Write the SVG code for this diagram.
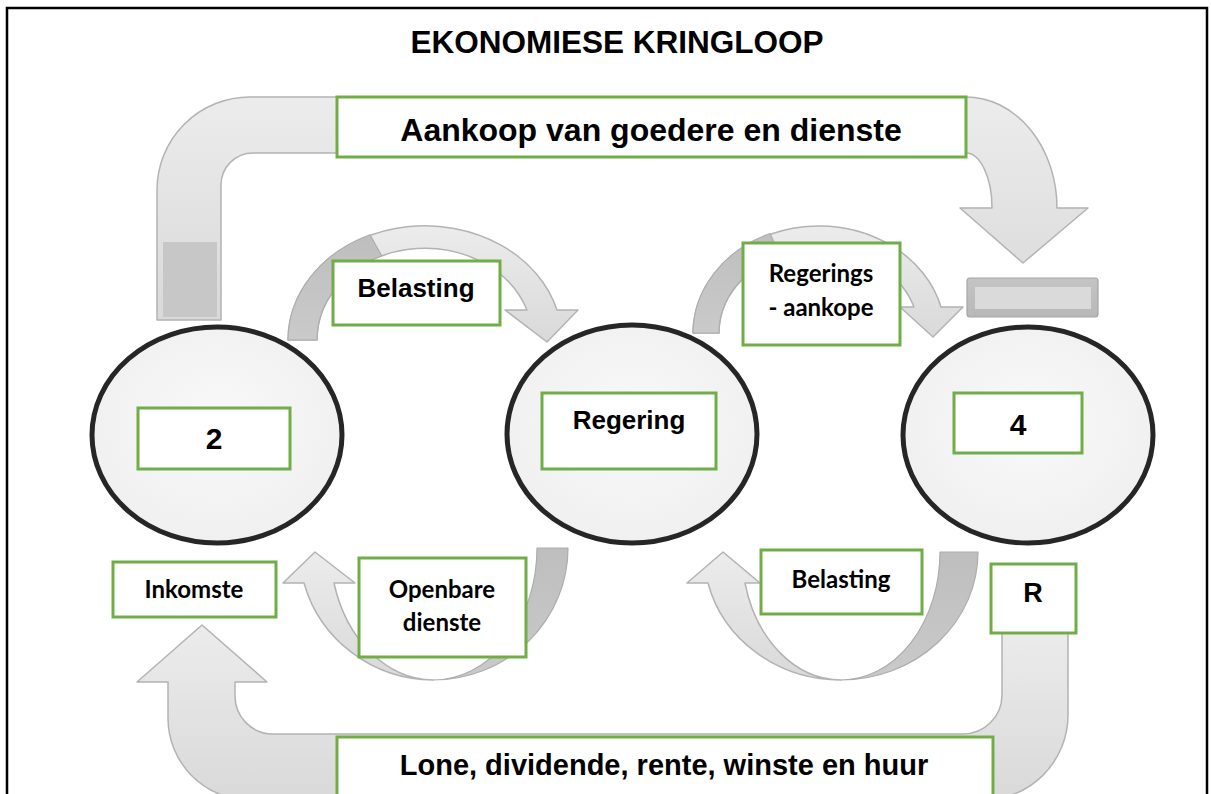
<svg xmlns="http://www.w3.org/2000/svg" width="1211" height="794" viewBox="0 0 1211 794">
<defs>
<linearGradient id="gLight" x1="0" y1="0" x2="0" y2="1">
<stop offset="0" stop-color="#ececec"/>
<stop offset="1" stop-color="#d9d9d9"/>
</linearGradient>
<linearGradient id="gDark" x1="0" y1="0" x2="0" y2="1">
<stop offset="0" stop-color="#bebebe"/>
<stop offset="1" stop-color="#cacaca"/>
</linearGradient>
<radialGradient id="gCircle" cx="0.5" cy="0.45" r="0.6">
<stop offset="0" stop-color="#f9f9f9"/>
<stop offset="1" stop-color="#efefef"/>
</radialGradient>
<linearGradient id="gBar" x1="0" y1="0" x2="0" y2="1">
<stop offset="0" stop-color="#c4c4c4"/>
<stop offset="1" stop-color="#b8b8b8"/>
</linearGradient>
<style>
.arrow{fill:url(#gLight);stroke:#b3b3b3;stroke-width:1.5;stroke-linejoin:round}
.dark{fill:url(#gDark);stroke:#adadad;stroke-width:1.2;stroke-linejoin:round}
.circle{fill:url(#gCircle);stroke:#262626;stroke-width:5}
.box{fill:#ffffff;stroke:#70AD47;stroke-width:3}
.ar{font-family:"Liberation Sans",Arial,sans-serif;font-weight:bold;fill:#000;text-anchor:middle}
.cal{font-family:Lato,"Open Sans",sans-serif;font-weight:bold;fill:#000;text-anchor:middle}
</style>
</defs>
<rect x="0" y="0" width="1211" height="794" fill="#ffffff"/>
<rect x="7" y="8" width="1200" height="800" fill="none" stroke="#000" stroke-width="2.5"/>
<text class="ar" x="617" y="53" font-size="31.5">EKONOMIESE KRINGLOOP</text>

<g id="connectors">
<!-- top big arrow -->
<path class="arrow" d="M157,320 L157,190 A93,93 0 0 1 250,97 L966,97 A91,111 0 0 1 1057,208 L1088,208 L1023,263 L960,208 L992,208 A26,55 0 0 0 966,153 L253,153 A32,32 0 0 0 221,185 L221,320 Z"/>
<rect x="163" y="242" width="54" height="75" fill="#c7c7c7"/>
<rect x="967" y="278" width="131" height="39" rx="3" fill="url(#gBar)" stroke="#a6a6a6" stroke-width="1.2"/>
<rect x="975" y="287" width="116" height="22" fill="#dadada"/>
<!-- top Belasting arc -->
<path class="arrow" d="M288,340 A137,115 0 0 1 557,310 L578,310 L547,342 L505,310 L527,310 A108,92 0 0 0 317,340 Z"/>
<path class="dark" d="M288,340 A137,115 0 0 1 370,234.7 L381.7,255.7 A108,92 0 0 0 317,340 Z"/>
<!-- Regerings-aankope arc -->
<path class="arrow" d="M693,333 A126,108 0 0 1 941,307 L963,307 L933,337 L900,307 L914,307 A100,84 0 0 0 719,333 Z"/>
<path class="dark" d="M693,333 A126,108 0 0 1 770,233.5 L780,255.6 A100,84 0 0 0 719,333 Z"/>
<!-- Openbare dienste arc -->
<path class="arrow" d="M304,583 A135,132 0 0 0 433,680 A104,132 0 0 1 334,583 L355,583 L315,552 L283,583 Z"/>
<path class="dark" d="M568,548 A135,132 0 0 1 433,680 A104,132 0 0 0 537,548 Z"/>
<!-- bottom Belasting arc -->
<path class="arrow" d="M708,583 A137,128 0 0 0 841,680 A99,128 0 0 1 745,583 L760,583 L723,552 L687,583 Z"/>
<path class="dark" d="M978,552 A137,128 0 0 1 841,680 A99,128 0 0 0 940,552 Z"/>
<!-- bottom big arrow -->
<path class="arrow" d="M168,682 L137,682 L202,625 L267,682 L235,682 L235,696 A38,38 0 0 0 273,734 L963,734 A39,39 0 0 0 1002,695 L1002,633 L1068,633 L1068,715 A85,85 0 0 1 983,800 L250,800 A82,82 0 0 1 168,718 Z"/>
</g>

<g id="node-aankoop">
<rect class="box" x="337" y="97" width="629" height="60"/>
<text class="ar" x="651" y="141" font-size="32">Aankoop van goedere en dienste</text>
</g>
<g id="node-belasting-top">
<rect class="box" x="333" y="261" width="167" height="64"/>
<text class="ar" x="416" y="297" font-size="26">Belasting</text>
</g>
<g id="node-regeringsaankope">
<rect class="box" x="743" y="243" width="157" height="102"/>
<text class="cal" x="821" y="282" font-size="24">Regerings</text>
<text class="cal" x="821" y="316" font-size="24">- aankope</text>
</g>
<g id="node-2">
<ellipse class="circle" cx="217" cy="435" rx="125" ry="108"/>
<rect class="box" x="138" y="408" width="152" height="61"/>
<text class="ar" x="214" y="449" font-size="30">2</text>
</g>
<g id="node-regering">
<ellipse class="circle" cx="632" cy="434" rx="125" ry="109"/>
<rect class="box" x="542" y="393" width="174" height="76"/>
<text class="ar" x="629" y="429" font-size="26">Regering</text>
</g>
<g id="node-4">
<ellipse class="circle" cx="1028" cy="435" rx="125" ry="108"/>
<rect class="box" x="954" y="393" width="128" height="60"/>
<text class="ar" x="1018" y="435" font-size="30">4</text>
</g>
<g id="node-inkomste">
<rect class="box" x="113" y="562" width="163" height="55"/>
<text class="cal" x="194" y="598" font-size="24">Inkomste</text>
</g>
<g id="node-openbare">
<rect class="box" x="359" y="558" width="167" height="99"/>
<text class="cal" x="442" y="598" font-size="24">Openbare</text>
<text class="cal" x="442" y="631" font-size="24">dienste</text>
</g>
<g id="node-belasting-bottom">
<rect class="box" x="761" y="550" width="161" height="64"/>
<text class="cal" x="841" y="588" font-size="24">Belasting</text>
</g>
<g id="node-r">
<rect class="box" x="991" y="564" width="85" height="69"/>
<text class="ar" x="1033" y="602" font-size="27">R</text>
</g>
<g id="node-lone">
<rect class="box" x="337" y="737" width="656" height="70"/>
<text class="ar" x="664" y="775" font-size="29">Lone, dividende, rente, winste en huur</text>
</g>
</svg>
